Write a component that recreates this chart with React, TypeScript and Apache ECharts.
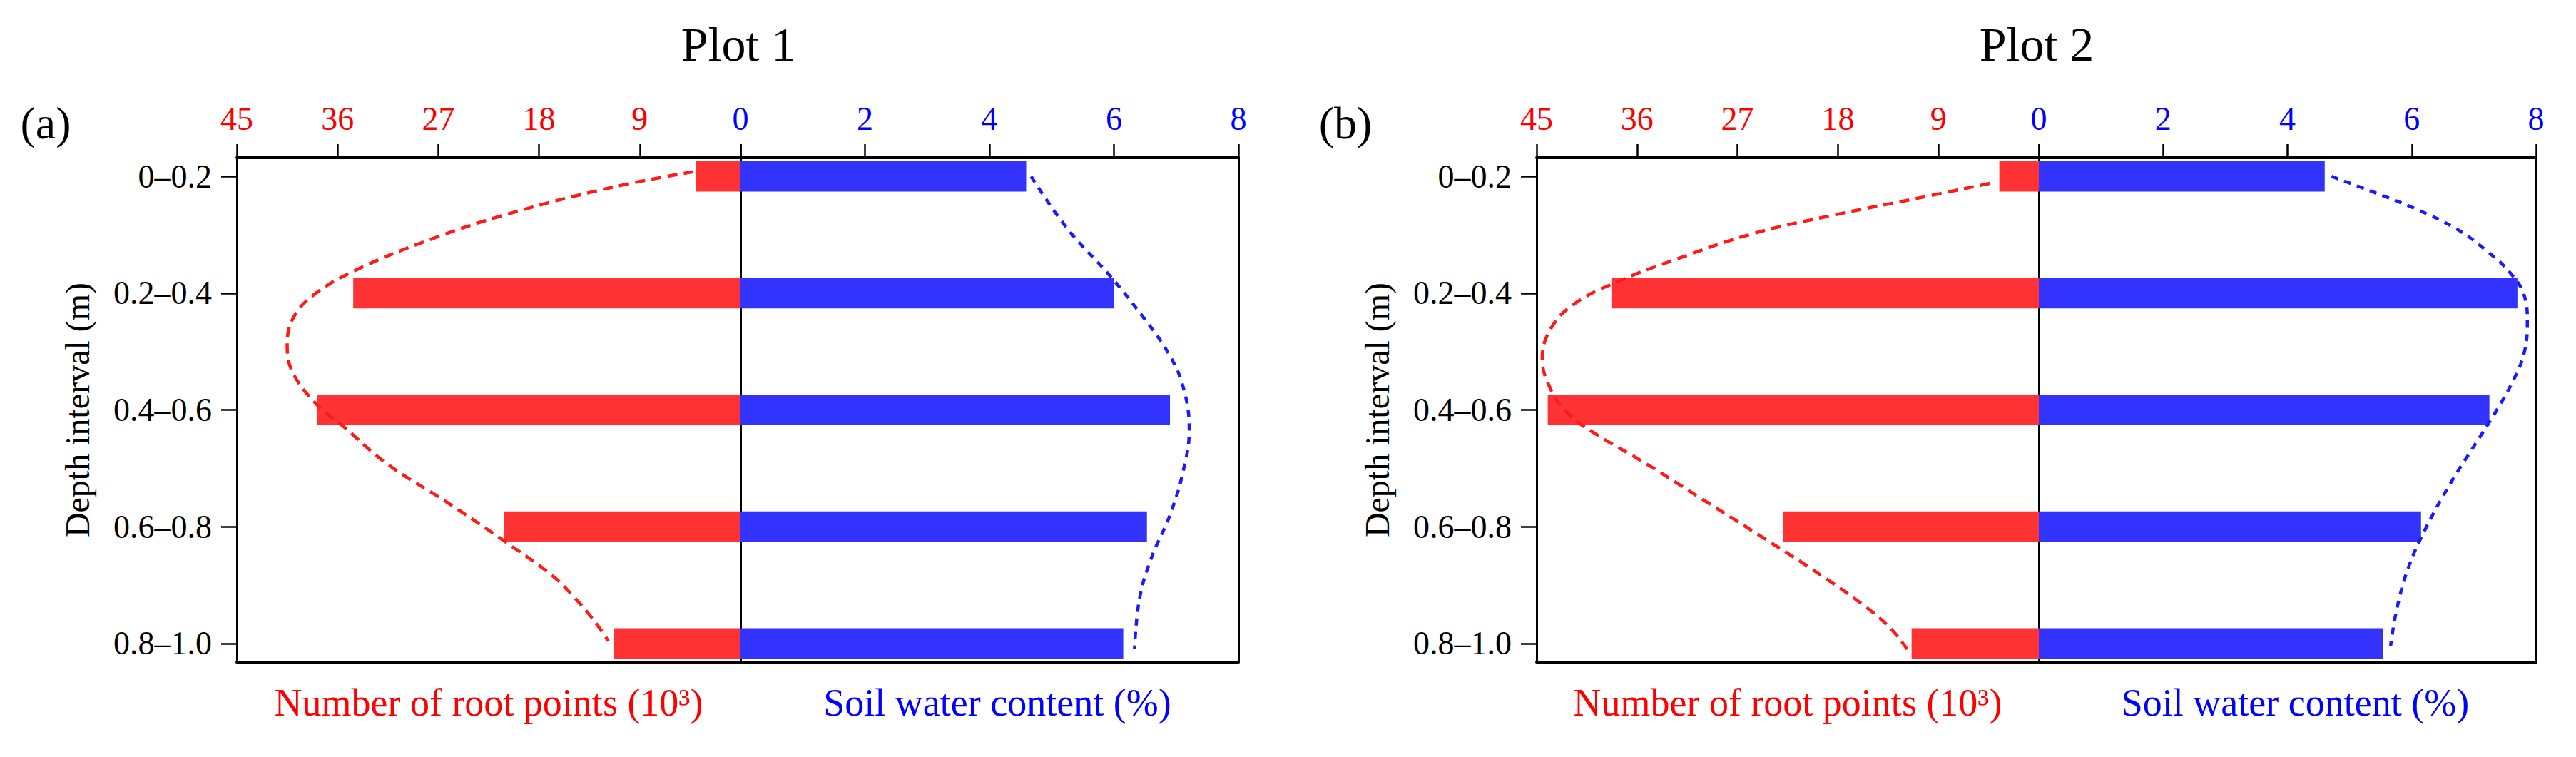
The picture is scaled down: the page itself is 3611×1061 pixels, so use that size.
import React, { useEffect, useRef } from "react";
import * as echarts from "echarts";

// ---------- data ----------
const depthLabels = ["0–0.2", "0.2–0.4", "0.4–0.6", "0.6–0.8", "0.8–1.0"];
const depthTickValues = [0, 1, 2, 3, 4];

// bar values (Plot 1)
const plot1RootPoints = [4.0, 34.6, 37.8, 21.1, 11.3]; // 10^3
const plot1WaterContent = [4.59, 6.0, 6.9, 6.53, 6.15]; // %
// bar values (Plot 2)
const plot2RootPoints = [3.54, 38.3, 44.0, 22.9, 11.4];
const plot2WaterContent = [4.6, 7.7, 7.25, 6.15, 5.54];

// fitted curves: [depth position, value]
const plot1RootCurve = [
  [-0.04, 4.2], [0.09, 11.3], [0.32, 20.7], [0.54, 27.7], [0.8, 34.3], [1.02, 38.2],
  [1.22, 40.0], [1.45, 40.5], [1.68, 40.0], [1.95, 37.9], [2.14, 35.5], [2.46, 31.6],
  [2.78, 26.4], [3.11, 21.3], [3.42, 16.8], [3.59, 15.0], [3.79, 13.2], [3.98, 11.8],
];
const plot1WaterCurve = [
  [0.0, 4.67], [0.44, 5.24], [0.86, 5.95], [1.22, 6.49], [1.51, 6.87], [1.8, 7.11],
  [2.17, 7.21], [2.53, 7.11], [2.9, 6.9], [3.27, 6.6], [3.62, 6.41], [4.05, 6.33],
];
const plot2RootCurve = [
  [0.06, 4.4], [0.19, 11.0], [0.33, 18.3], [0.49, 25.6], [0.71, 32.5], [0.9, 37.7],
  [1.09, 41.6], [1.3, 43.7], [1.56, 44.5], [1.83, 43.7], [2.03, 42.2], [2.2, 39.8],
  [2.46, 35.2], [2.75, 30.4], [3.04, 25.6], [3.36, 20.4], [3.68, 15.6], [3.88, 13.2],
  [4.05, 11.8],
];
const plot2WaterCurve = [
  [0.0, 4.71], [0.13, 5.36], [0.28, 6.07], [0.45, 6.72], [0.64, 7.21], [0.83, 7.59],
  [1.02, 7.81], [1.25, 7.86], [1.51, 7.81], [1.74, 7.64], [2.0, 7.37], [2.32, 6.99],
  [2.64, 6.61], [3.01, 6.23], [3.33, 5.96], [3.68, 5.77], [4.02, 5.66],
];

const rootAxis = { min: 0, max: 45, interval: 9 };
const waterAxis = { min: 0, max: 8, interval: 2 };
const depthAxis = { min: -0.16, max: 4.16 };

const titles = ["Plot 1", "Plot 2"];
const tags = ["(a)", "(b)"];
const rootName = "Number of root points (10³)";
const waterName = "Soil water content (%)";
const depthName = "Depth interval (m)";

// ---------- layout / style ----------
const W = 3611;
const H = 1061;
const FONT = "'Liberation Serif', 'Times New Roman', serif";
const TOP = 221;
const PLOT_H = 707;
const BAR_DEPTH = 0.262;
const RED_TEXT = "#ff0000";
const BLUE_TEXT = "#0000ff";
const RED_BAR = "#ff3333";
const BLUE_BAR = "#3333ff";
const RED_LINE = "#ff1a1a";
const BLUE_LINE = "#1a1aff";

const panels = [
  { left: 332, zero: 1038, right: 1736, roots: plot1RootPoints, water: plot1WaterContent, rootCurve: plot1RootCurve, waterCurve: plot1WaterCurve },
  { left: 2154, zero: 2858, right: 3555, roots: plot2RootPoints, water: plot2WaterContent, rootCurve: plot2RootCurve, waterCurve: plot2WaterCurve },
];

const makeBar = (color: string) => (params: any, api: any) => {
  const v = api.value(0);
  const d = api.value(1);
  const a = api.coord([0, d]);
  const b = api.coord([v, d]);
  const h = api.size([0, BAR_DEPTH])[1];
  return {
    type: "rect",
    shape: { x: Math.min(a[0], b[0]), y: a[1] - h / 2, width: Math.abs(b[0] - a[0]), height: h },
    style: { fill: color },
  };
};

function buildOption() {
  const grids: any[] = [];
  const xAxes: any[] = [];
  const yAxes: any[] = [];
  const series: any[] = [];
  const graphics: any[] = [];

  const lineOnly = (extra: any) => ({
    type: "value",
    axisLine: { show: true, onZero: false, lineStyle: { color: "#000", width: extra.lw || 3 } },
    axisTick: { show: false },
    axisLabel: { show: false },
    splitLine: { show: false },
    ...extra,
  });

  panels.forEach((p, i) => {
    const gA = grids.length;
    grids.push({ left: p.left, top: TOP, width: p.zero - p.left, height: PLOT_H, show: false });
    const gB = grids.length;
    grids.push({ left: p.zero, top: TOP, width: p.right - p.zero, height: PLOT_H, show: false });

    const xRed = xAxes.length;
    xAxes.push({
      gridIndex: gA, type: "value", ...rootAxis, inverse: true, position: "top",
      axisLine: { show: true, onZero: false, lineStyle: { color: "#000", width: 4 } },
      axisTick: { show: true, inside: false, length: 19, lineStyle: { color: "#000", width: 2.5 } },
      axisLabel: {
        color: RED_TEXT, fontSize: 46, fontFamily: FONT, margin: 32,
        formatter: (v: number) => (v === 0 ? "" : String(v)),
      },
      splitLine: { show: false },
    });
    const xBlue = xAxes.length;
    xAxes.push({
      gridIndex: gB, type: "value", ...waterAxis, position: "top",
      axisLine: { show: true, onZero: false, lineStyle: { color: "#000", width: 4 } },
      axisTick: { show: true, inside: false, length: 19, lineStyle: { color: "#000", width: 2.5 } },
      axisLabel: { color: BLUE_TEXT, fontSize: 46, fontFamily: FONT, margin: 32 },
      splitLine: { show: false },
    });
    xAxes.push(lineOnly({ gridIndex: gA, ...rootAxis, inverse: true, position: "bottom", lw: 4 }));
    xAxes.push(lineOnly({ gridIndex: gB, ...waterAxis, position: "bottom", lw: 4 }));

    const yRed = yAxes.length;
    yAxes.push({
      gridIndex: gA, type: "value", ...depthAxis, inverse: true, position: "left",
      axisLine: { show: true, onZero: false, lineStyle: { color: "#000", width: 3 } },
      axisTick: { show: true, inside: false, length: 22, customValues: depthTickValues, lineStyle: { color: "#000", width: 2.5 } },
      axisLabel: {
        customValues: depthTickValues, color: "#000", fontSize: 46, fontFamily: FONT, margin: 35,
        formatter: (v: number) => depthLabels[Math.round(v)] ?? "",
      },
      splitLine: { show: false },
      name: depthName, nameLocation: "middle", nameGap: 200,
      nameTextStyle: { color: "#000", fontSize: 48, fontFamily: FONT },
    });
    const yBlue = yAxes.length;
    yAxes.push(lineOnly({ gridIndex: gB, ...depthAxis, inverse: true, position: "left", lw: 3 }));
    yAxes.push(lineOnly({ gridIndex: gB, ...depthAxis, inverse: true, position: "right", lw: 3 }));

    series.push({
      type: "custom", xAxisIndex: xRed, yAxisIndex: yRed,
      data: p.roots.map((v, k) => [v, k]), encode: { x: 0, y: 1 },
      renderItem: makeBar(RED_BAR), z: 2,
    });
    series.push({
      type: "custom", xAxisIndex: xBlue, yAxisIndex: yBlue,
      data: p.water.map((v, k) => [v, k]), encode: { x: 0, y: 1 },
      renderItem: makeBar(BLUE_BAR), z: 2,
    });
    series.push({
      type: "line", xAxisIndex: xRed, yAxisIndex: yRed,
      data: p.rootCurve.map(([d, v]) => [v, d]), smooth: 0.4, symbol: "none",
      lineStyle: { color: RED_LINE, width: 4.5, type: [14, 9] }, z: 5,
    });
    series.push({
      type: "line", xAxisIndex: xBlue, yAxisIndex: yBlue,
      data: p.waterCurve.map(([d, v]) => [v, d]), smooth: 0.4, symbol: "none",
      lineStyle: { color: BLUE_LINE, width: 4.5, type: [10, 9] }, z: 5,
    });

    const text = (t: string, x: number, y: number, size: number, color: string) => ({
      type: "text", x, y, silent: true,
      style: { text: t, fontSize: size, fontFamily: FONT, fill: color, align: "center", verticalAlign: "middle" },
    });
    graphics.push(text(titles[i], p.zero - 3, 62, 68, "#000"));
    graphics.push(text(tags[i], p.left - 268, 172, 64, "#000"));
    graphics.push(text(rootName, (p.left + p.zero) / 2 - 0, 985, 54, RED_TEXT));
    graphics.push(text(waterName, (p.zero + p.right) / 2 + 11, 985, 54, BLUE_TEXT));
  });

  return {
    animation: false,
    backgroundColor: "#fff",
    textStyle: { fontFamily: FONT },
    grid: grids,
    xAxis: xAxes,
    yAxis: yAxes,
    series,
    graphic: graphics,
  };
}

export default function App() {
  const ref = useRef<HTMLDivElement>(null);
  useEffect(() => {
    if (!ref.current) return;
    const chart = echarts.init(ref.current, null, { renderer: "svg" });
    chart.setOption(buildOption() as any);
    return () => chart.dispose();
  }, []);
  return (
    <div
      ref={ref}
      style={{ position: "absolute", left: 0, top: 0, width: W, height: H, background: "#fff" }}
    />
  );
}
